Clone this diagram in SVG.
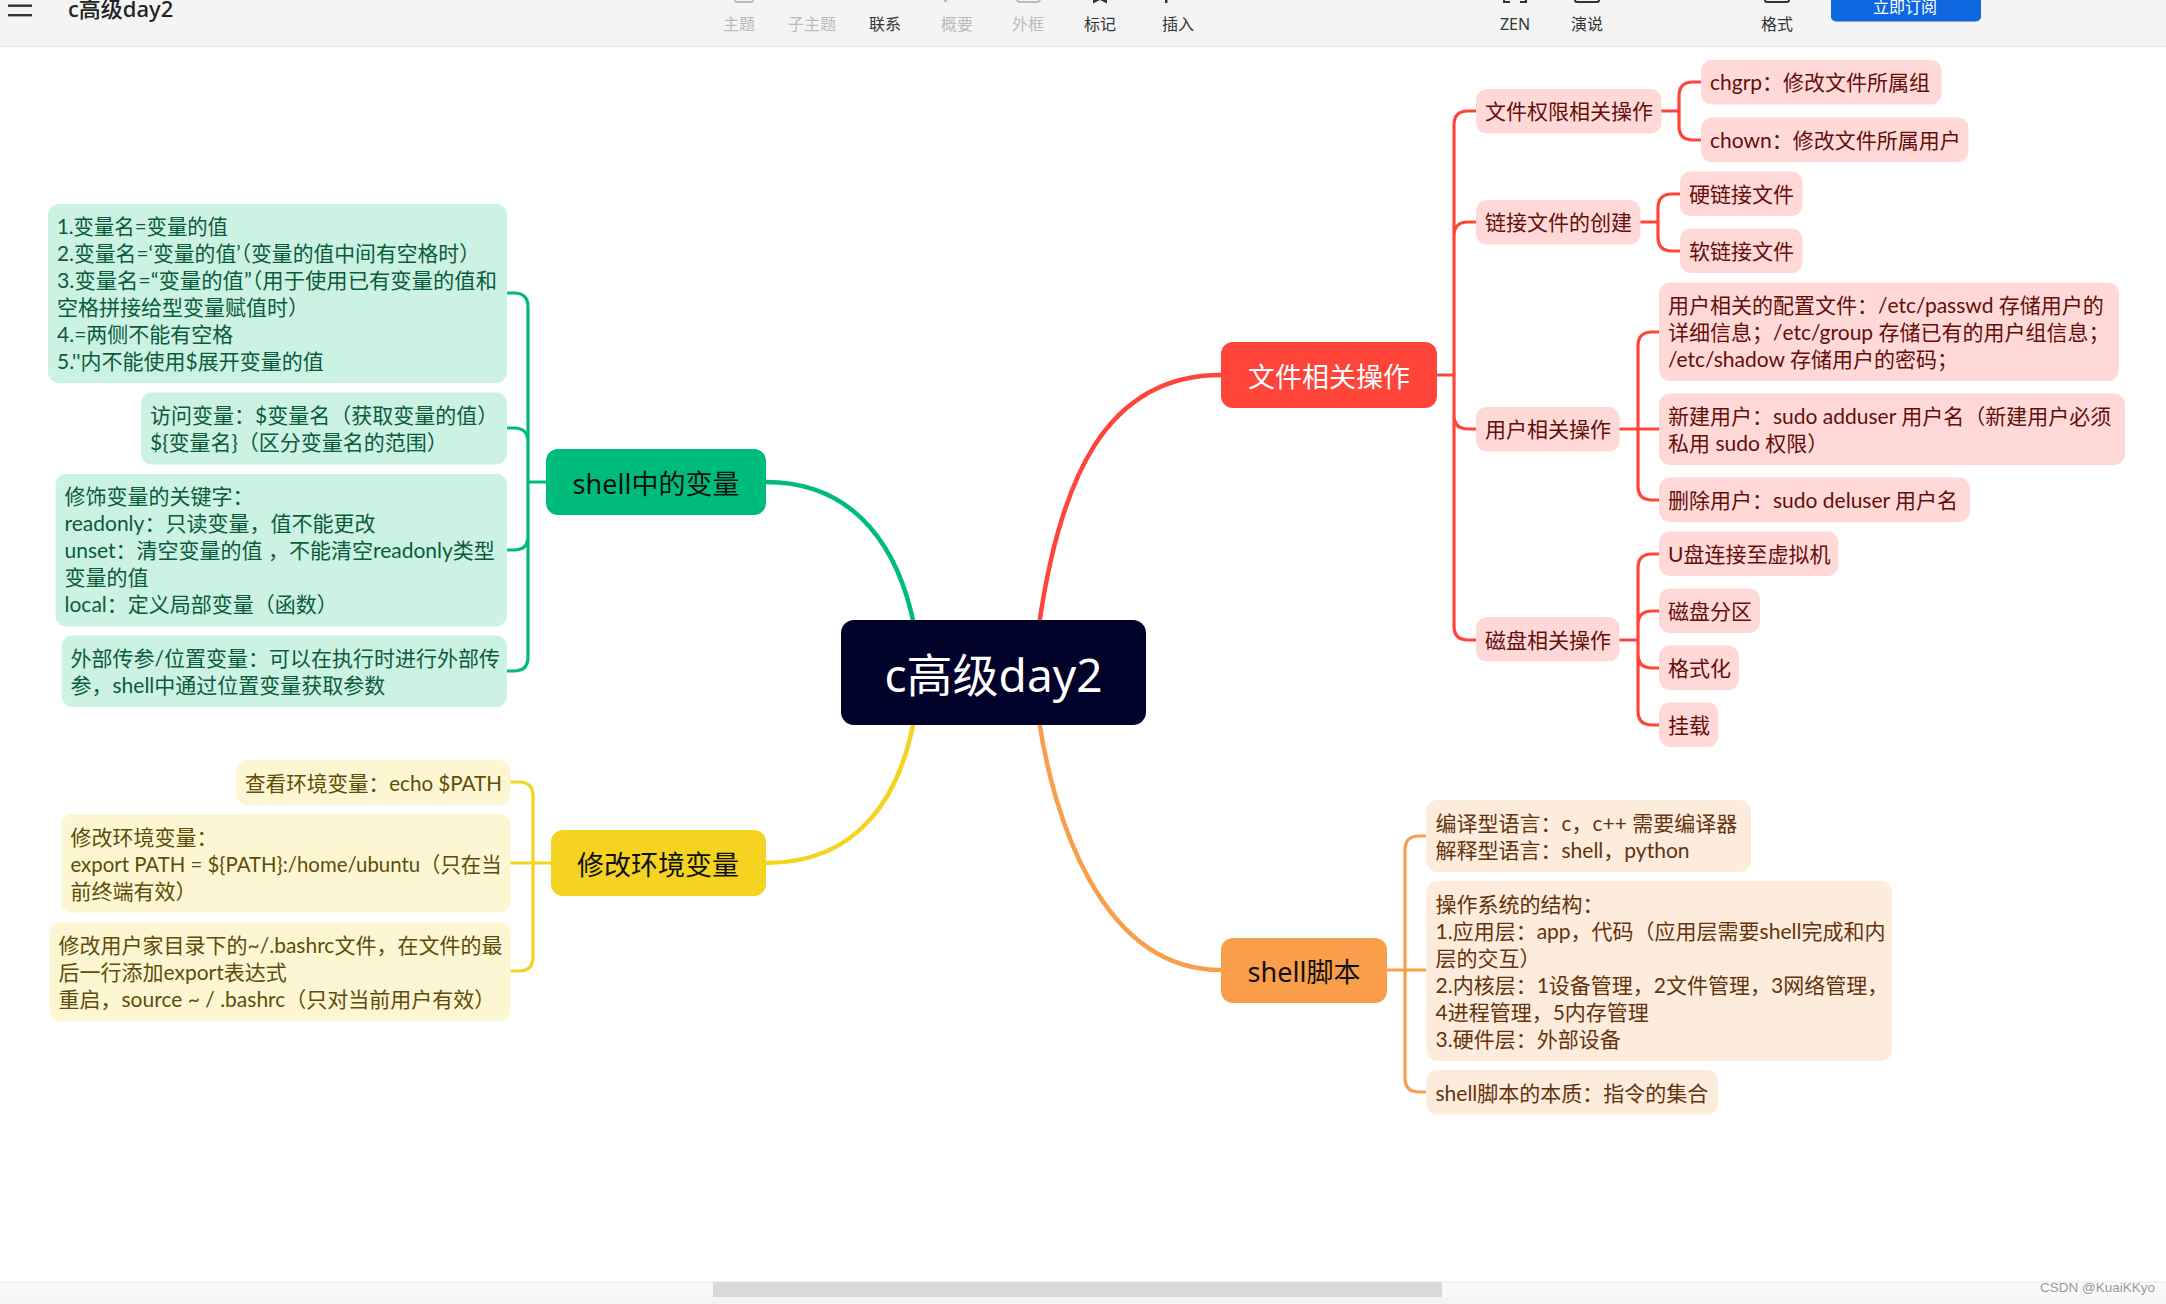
<svg xmlns="http://www.w3.org/2000/svg" width="2166" height="1304" viewBox="0 0 2166 1304">
<style>
text{font-family:"Lato","Noto Sans CJK SC",sans-serif;font-size:21px;white-space:pre}
.c{fill:none;stroke-width:3.2;stroke-linecap:butt;stroke-linejoin:round}
.cr{stroke:#ff453a}.cg{stroke:#00bc7b}.cy{stroke:#f4d321}.co{stroke:#f99e4b}
.m{stroke-width:4.5}
.br{fill:#ffd9d7}.bg{fill:#ccf2e3}.by{fill:#fdf6d3}.bo{fill:#fdebdc}
.tr{fill:#640e0a}.tg{fill:#0b5b3d}.ty{fill:#5e4d08}.to{fill:#63330d}
.h{font-family:"Noto Sans","Noto Sans CJK SC",sans-serif;font-size:27px;text-anchor:middle;fill:#111}
.bar{font-family:"Noto Sans","Noto Sans CJK SC",sans-serif;font-size:16px;text-anchor:middle;fill:#333}
.dim{fill:#bbb}
</style>
<rect width="2166" height="1304" fill="#fff"/>
<g id="toolbar">
<rect width="2166" height="46" fill="#f4f4f4"/>
<rect y="46" width="2166" height="1" fill="#e6e6e6"/>
<rect x="8" y="4.500" width="24" height="2.400" fill="#333"/>
<rect x="8" y="14" width="24" height="2.400" fill="#333"/>
<text x="68" y="17" style="font-family:'Noto Sans','Noto Sans CJK SC',sans-serif;font-size:22px;font-weight:500" fill="#222">c高级day2</text>
<rect x="735" y="-8" width="18" height="10" rx="2" fill="none" stroke="#bbb" stroke-width="2"/>
<rect x="892" y="-3" width="2" height="3" fill="#333"/>
<rect x="944" y="-3" width="3" height="5" fill="#bbb"/>
<rect x="1017" y="-8" width="23" height="10" rx="3" fill="none" stroke="#bbb" stroke-width="2"/>
<path d="M1093-4V3.500L1100 0L1107 3.500V-4Z" fill="#333"/>
<rect x="1165" y="-3" width="2.500" height="6" fill="#333"/>
<path d="M1504-8V2H1510M1526-8V2H1520" fill="none" stroke="#333" stroke-width="2"/>
<rect x="1575" y="-8" width="24" height="10" rx="2" fill="none" stroke="#333" stroke-width="2"/>
<rect x="1765" y="-8" width="24" height="10" rx="2" fill="none" stroke="#333" stroke-width="2"/>
<text class="bar dim" x="739" y="30">主题</text>
<text class="bar dim" x="812" y="30">子主题</text>
<text class="bar" x="885" y="30">联系</text>
<text class="bar dim" x="957" y="30">概要</text>
<text class="bar dim" x="1028" y="30">外框</text>
<text class="bar" x="1100" y="30">标记</text>
<text class="bar" x="1178" y="30">插入</text>
<text class="bar" x="1515" y="30">ZEN</text>
<text class="bar" x="1587" y="30">演说</text>
<text class="bar" x="1777" y="30">格式</text>
<rect x="1831" y="-10" width="150" height="31.500" rx="5" fill="#0f67e0"/>
<text class="bar" x="1905" y="13" style="fill:#fff">立即订阅</text>
</g>
<g id="connectors">
<path class="c m cr" d="M1039 625C1060 480 1105 375 1221 375"/>
<path class="c m cg" d="M914 625C900 555 860 482 766 482"/>
<path class="c m cy" d="M914 720C900 795 860 863 766 863"/>
<path class="c m co" d="M1039 720C1053 815 1100 970 1221 970"/>
<path class="c cr" d="M1436 375H1454M1476 111H1468Q1454 111 1454 125V626Q1454 640 1468 640H1476M1476 222H1468Q1454 222 1454 236M1476 429H1468Q1454 429 1454 415"/>
<path class="c cr" d="M1661 111H1679M1701 82H1693Q1679 82 1679 96V126Q1679 140 1693 140H1701"/>
<path class="c cr" d="M1640 222H1658M1680 194H1672Q1658 194 1658 208V237Q1658 251 1672 251H1680"/>
<path class="c cr" d="M1619 429H1659M1659 332H1652Q1638 332 1638 346V486Q1638 500 1652 500H1659"/>
<path class="c cr" d="M1619 640H1638M1659 554H1652Q1638 554 1638 568V711Q1638 725 1652 725H1659M1659 611H1652Q1638 611 1638 625M1659 668H1652Q1638 668 1638 654"/>
<path class="c cg" d="M546 482H528M507 293H514Q528 293 528 307V657Q528 671 514 671H507M507 428H514Q528 428 528 442M507 550H514Q528 550 528 536"/>
<path class="c cy" d="M551 863H510M510 782H519Q533 782 533 796V957Q533 971 519 971H510"/>
<path class="c co" d="M1387 970H1426M1426 836H1419Q1405 836 1405 850V1078Q1405 1092 1419 1092H1426"/>
</g>
<g id="root"><rect x="841" y="620" width="305" height="105" rx="13" fill="#000229"/><text x="993.500" y="692" style="font-family:'Noto Sans','Noto Sans CJK SC',sans-serif;font-size:46px;text-anchor:middle" fill="#fff">c高级day2</text></g>
<g id="n-file"><rect x="1221" y="342" width="216" height="66" rx="12" fill="#ff453a"/><text class="h" x="1329" y="387" style="fill:#fff">文件相关操作</text></g>
<g id="n-var"><rect x="546" y="449" width="220" height="66" rx="12" fill="#00bc7b"/><text class="h" x="656" y="494">shell中的变量</text></g>
<g id="n-env"><rect x="551" y="830" width="215" height="66" rx="12" fill="#f4d321"/><text class="h" x="658" y="875">修改环境变量</text></g>
<g id="n-shell"><rect x="1221" y="938" width="166" height="65" rx="12" fill="#f99e4b"/><text class="h" x="1304" y="982">shell脚本</text></g>

<g id="f1" class="tr"><rect class="br" x="1476" y="89" width="185.500" height="44.500" rx="11"/><text x="1485" y="119">文件权限相关操作</text></g>
<g id="f11" class="tr"><rect class="br" x="1701" y="60" width="240.500" height="44.500" rx="11"/><text x="1710" y="90">chgrp：修改文件所属组</text></g>
<g id="f12" class="tr"><rect class="br" x="1701" y="117.500" width="267.500" height="44.500" rx="11"/><text x="1710" y="147.500">chown：修改文件所属用户</text></g>
<g id="f2" class="tr"><rect class="br" x="1476" y="200" width="164.500" height="44.500" rx="11"/><text x="1485" y="230">链接文件的创建</text></g>
<g id="f21" class="tr"><rect class="br" x="1680" y="171.500" width="122.500" height="44.500" rx="11"/><text x="1689" y="201.500">硬链接文件</text></g>
<g id="f22" class="tr"><rect class="br" x="1680" y="228.500" width="122.500" height="44.500" rx="11"/><text x="1689" y="258.500">软链接文件</text></g>
<g id="f3" class="tr"><rect class="br" x="1476" y="407" width="143.500" height="44.500" rx="11"/><text x="1485" y="437">用户相关操作</text></g>
<g id="f31" class="tr"><rect class="br" x="1659" y="282.500" width="460" height="98.500" rx="11"/><text x="1668" y="313">用户相关的配置文件：/etc/passwd 存储用户的</text><text x="1668" y="340">详细信息；/etc/group 存储已有的用户组信息；</text><text x="1668" y="367">/etc/shadow 存储用户的密码；</text></g>
<g id="f32" class="tr"><rect class="br" x="1659" y="393.500" width="466" height="71.500" rx="11"/><text x="1668" y="424">新建用户：sudo adduser 用户名（新建用户必须</text><text x="1668" y="451">私用 sudo 权限）</text></g>
<g id="f33" class="tr"><rect class="br" x="1659" y="477.500" width="311" height="44.500" rx="11"/><text x="1668" y="508">删除用户：sudo deluser 用户名</text></g>
<g id="f4" class="tr"><rect class="br" x="1476" y="617" width="143.500" height="44.500" rx="11"/><text x="1485" y="647.500">磁盘相关操作</text></g>
<g id="f41" class="tr"><rect class="br" x="1659" y="531.500" width="179.500" height="44.500" rx="11"/><text x="1668" y="562">U盘连接至虚拟机</text></g>
<g id="f42" class="tr"><rect class="br" x="1659" y="588.500" width="101" height="44.500" rx="11"/><text x="1668" y="619">磁盘分区</text></g>
<g id="f43" class="tr"><rect class="br" x="1659" y="645.500" width="80" height="44.500" rx="11"/><text x="1668" y="676">格式化</text></g>
<g id="f44" class="tr"><rect class="br" x="1659" y="702.500" width="59.500" height="44.500" rx="11"/><text x="1668" y="733">挂载</text></g>

<g id="g1" class="tg"><rect class="bg" x="48" y="204" width="459" height="179" rx="11"/><text x="57" y="234" textLength="171" lengthAdjust="spacingAndGlyphs">1.变量名=变量的值</text><text x="57" y="261" textLength="423" lengthAdjust="spacingAndGlyphs">2.变量名=‘变量的值’（变量的值中间有空格时）</text><text x="57" y="288" textLength="440" lengthAdjust="spacingAndGlyphs">3.变量名=“变量的值”（用于使用已有变量的值和</text><text x="57" y="315">空格拼接给型变量赋值时）</text><text x="57" y="342">4.=两侧不能有空格</text><text x="57" y="369">5.''内不能使用$展开变量的值</text></g>
<g id="g2" class="tg"><rect class="bg" x="141" y="392.500" width="366" height="72" rx="11"/><text x="150" y="423">访问变量：$变量名（获取变量的值）</text><text x="150" y="450">${变量名}（区分变量名的范围）</text></g>
<g id="g3" class="tg"><rect class="bg" x="55.500" y="474" width="451.500" height="152.500" rx="11"/><text x="64.500" y="504">修饰变量的关键字：</text><text x="64.500" y="531">readonly：只读变量，值不能更改</text><text x="64.500" y="558">unset：清空变量的值 ，不能清空readonly类型</text><text x="64.500" y="585">变量的值</text><text x="64.500" y="612">local：定义局部变量（函数）</text></g>
<g id="g4" class="tg"><rect class="bg" x="61.500" y="635.500" width="445.500" height="71.500" rx="11"/><text x="70.500" y="666">外部传参/位置变量：可以在执行时进行外部传</text><text x="70.500" y="693">参，shell中通过位置变量获取参数</text></g>

<g id="y1" class="ty"><rect class="by" x="236" y="760" width="274.500" height="45" rx="11"/><text x="245" y="791" textLength="257" lengthAdjust="spacingAndGlyphs">查看环境变量：echo $PATH</text></g>
<g id="y2" class="ty"><rect class="by" x="61.500" y="814" width="449" height="98.500" rx="11"/><text x="70.500" y="845">修改环境变量：</text><text x="70.500" y="872" textLength="431" lengthAdjust="spacingAndGlyphs">export PATH = ${PATH}:/home/ubuntu（只在当</text><text x="70.500" y="899">前终端有效）</text></g>
<g id="y3" class="ty"><rect class="by" x="49.500" y="922.500" width="461" height="98.500" rx="11"/><text x="58.500" y="953">修改用户家目录下的~/.bashrc文件，在文件的最</text><text x="58.500" y="980">后一行添加export表达式</text><text x="58.500" y="1007">重启，source ~ / .bashrc（只对当前用户有效）</text></g>

<g id="o1" class="to"><rect class="bo" x="1426.500" y="800" width="324.500" height="72" rx="11"/><text x="1435.500" y="831">编译型语言：c，c++ 需要编译器</text><text x="1435.500" y="858">解释型语言：shell，python</text></g>
<g id="o2" class="to"><rect class="bo" x="1426.500" y="881" width="465.500" height="180" rx="11"/><text x="1435.500" y="912">操作系统的结构：</text><text x="1435.500" y="939">1.应用层：app，代码（应用层需要shell完成和内</text><text x="1435.500" y="966">层的交互）</text><text x="1435.500" y="993">2.内核层：1设备管理，2文件管理，3网络管理，</text><text x="1435.500" y="1020">4进程管理，5内存管理</text><text x="1435.500" y="1047">3.硬件层：外部设备</text></g>
<g id="o3" class="to"><rect class="bo" x="1426.500" y="1070" width="291.500" height="44.500" rx="11"/><text x="1435.500" y="1101">shell脚本的本质：指令的集合</text></g>

<g id="scrollbar">
<rect y="1282" width="2166" height="15" fill="#f9f9f9"/>
<rect y="1281.500" width="2166" height="1" fill="#e8e8e8"/>
<rect x="713" y="1282" width="729" height="15" fill="#d9d9d9"/>
<rect y="1297" width="2166" height="7" fill="#f4f4f4"/>
<text x="2040" y="1292" style="font-family:'Liberation Sans',sans-serif;font-size:13.500px" fill="#999">CSDN @KuaiKKyo</text>
</g>
</svg>
